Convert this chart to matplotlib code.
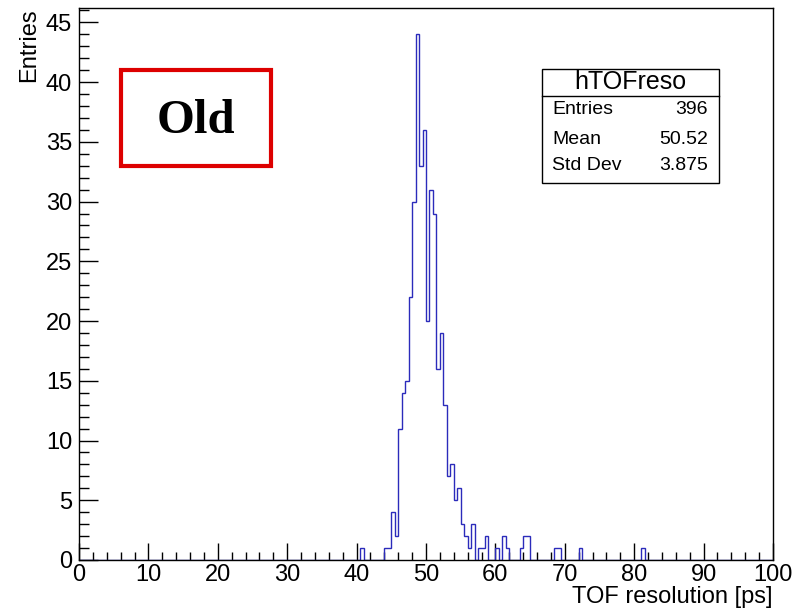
import numpy as np
import matplotlib
matplotlib.use("Agg")
import matplotlib.pyplot as plt
from matplotlib.ticker import MultipleLocator
from matplotlib.patches import Rectangle

# histogramme hTOFreso, bins de 0.5 ps entre 0 et 100
bin_width = 0.5
x_min, x_max = 0, 100
bin_low = [40.5, 44.0, 44.5, 45.0, 45.5, 46.0, 46.5, 47.0, 47.5, 48.0, 48.5, 49.0,
           49.5, 50.0, 50.5, 51.0, 51.5, 52.0, 52.5, 53.0, 53.5, 54.0, 54.5, 55.0,
           55.5, 56.0, 56.5, 57.5, 58.0, 58.5, 60.0, 61.0, 61.5, 63.5, 64.0, 64.5,
           68.5, 69.0, 72.0, 81.0]
counts = [1, 1, 1, 4, 2, 11, 14, 15, 22, 30, 44, 33,
          36, 20, 31, 29, 16, 19, 13, 7, 8, 5, 6, 3,
          2, 1, 3, 1, 1, 2, 1, 2, 1, 1, 2, 2,
          1, 1, 1, 1]

stats_labels = ["Entries", "Mean", "Std Dev"]
stats_values = ["396", "50.52", "3.875"]

plt.rcParams['font.family'] = ['Liberation Sans', 'DejaVu Sans']

fig = plt.figure(figsize=(7.94, 6.10), dpi=100)
ax = fig.add_axes([79 / 794, 50 / 610, 694 / 794, 552 / 610])

edges = np.arange(x_min, x_max + bin_width / 2, bin_width)
centers = np.array(bin_low) + bin_width / 2
ax.hist(centers, bins=edges, weights=counts, histtype='step',
        color='#2b2bbb', lw=1.0)

ax.set_xlim(x_min, x_max)
ax.set_ylim(0, 1.05 * max(counts))
ax.xaxis.set_major_locator(MultipleLocator(10))
ax.xaxis.set_minor_locator(MultipleLocator(2))
ax.yaxis.set_major_locator(MultipleLocator(5))
ax.yaxis.set_minor_locator(MultipleLocator(1))
ax.tick_params(axis='both', which='both', direction='in', top=False, right=False,
               labelsize=17, width=1, color='black')
ax.tick_params(axis='x', which='major', length=12, pad=3)
ax.tick_params(axis='x', which='minor', length=6)
ax.tick_params(axis='y', which='major', length=14, pad=5)
ax.tick_params(axis='y', which='minor', length=7)
for sp in ax.spines.values():
    sp.set_linewidth(1)

ax.set_xlabel("TOF resolution [ps]", loc='right', fontsize=17, labelpad=0)
ax.set_ylabel("Entries", loc='top', fontsize=17, labelpad=4)

# cadre "Old"
fig.patches.append(Rectangle((121 / 794, (610 - 166) / 610), 150 / 794, 96 / 610,
                             transform=fig.transFigure, fill=False,
                             edgecolor='#dd0000', lw=3))
fig.text(196 / 794, (610 - 121) / 610, "Old", ha='center', va='center',
         fontsize=35, fontweight='bold', family='Liberation Serif')

# boite de statistiques
bx0, bx1 = 542 / 794, 719 / 794
by0, by1 = (610 - 183) / 610, (610 - 69) / 610
ysep = (610 - 96) / 610
fig.patches.append(Rectangle((bx0, by0), bx1 - bx0, by1 - by0,
                             transform=fig.transFigure, fill=True,
                             facecolor='white', edgecolor='black', lw=1, zorder=5))
fig.lines.append(plt.Line2D([bx0, bx1], [ysep, ysep], transform=fig.transFigure,
                            color='black', lw=1, zorder=6))
fig.text((bx0 + bx1) / 2, (610 - 82) / 610, "hTOFreso", ha='center', va='center',
         fontsize=18, zorder=7)
row_y = [110, 139, 166]
for lab, val, yy in zip(stats_labels, stats_values, row_y):
    fig.text(552 / 794, (610 - yy) / 610, lab, ha='left', va='center',
             fontsize=14, zorder=7)
    fig.text(708 / 794, (610 - yy) / 610, val, ha='right', va='center',
             fontsize=14, zorder=7)

fig.savefig("out.png", dpi=100)
